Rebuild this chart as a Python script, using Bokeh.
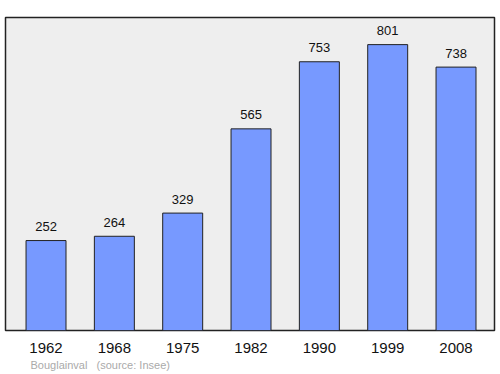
from bokeh.plotting import figure
from bokeh.models import ColumnDataSource, Title, FixedTicker, Range1d
from bokeh.core.properties import value
from bokeh.embed import file_html
from bokeh.resources import INLINE

years = ["1962", "1968", "1975", "1982", "1990", "1999", "2008"]
population = [252, 264, 329, 565, 753, 801, 738]
commune = "Bouglainval"
source_note = "(source: Insee)"

xs = list(range(len(years)))
label_gap = 39
src = ColumnDataSource(dict(x=xs, top=population, ly=[v + label_gap for v in population],
                            txt=[str(v) for v in population]))

p = figure(width=500, height=374, output_backend="svg", toolbar_location=None,
           x_range=Range1d(-0.593, 6.563), y_range=Range1d(0, 877),
           min_border_left=5, min_border_right=6, min_border_top=17, min_border_bottom=44)
p.background_fill_color = "#eeeeee"
p.border_fill_color = "white"
p.outline_line_color = "#222222"
p.outline_line_width = 1.5
p.grid.visible = False
p.yaxis.visible = False

p.vbar(x="x", top="top", width=0.585, bottom=0, source=src,
       fill_color="#7799ff", line_color="#222222", line_width=1)
p.text(x="x", y="ly", text="txt", source=src, text_align="center", text_baseline="middle",
       text_font=value("Liberation Sans"), text_font_size="13px", text_color="#111111")

ax = p.xaxis[0]
ax.ticker = FixedTicker(ticks=xs)
ax.major_label_overrides = {i: y for i, y in enumerate(years)}
ax.axis_line_color = None
ax.major_tick_line_color = None
ax.minor_tick_line_color = None
ax.major_label_text_font = "Liberation Sans"
ax.major_label_text_font_size = "15px"
ax.major_label_text_color = "#111111"
ax.major_label_standoff = 6

footer = Title(text=commune + "\u00a0\u00a0\u00a0" + source_note, align="left",
               offset=25, text_font="Liberation Sans", text_font_size="11px",
               text_color="#aaaaaa", text_font_style="normal", standoff=3)
p.add_layout(footer, "below")

open("out.html", "w").write(file_html(p, INLINE))
